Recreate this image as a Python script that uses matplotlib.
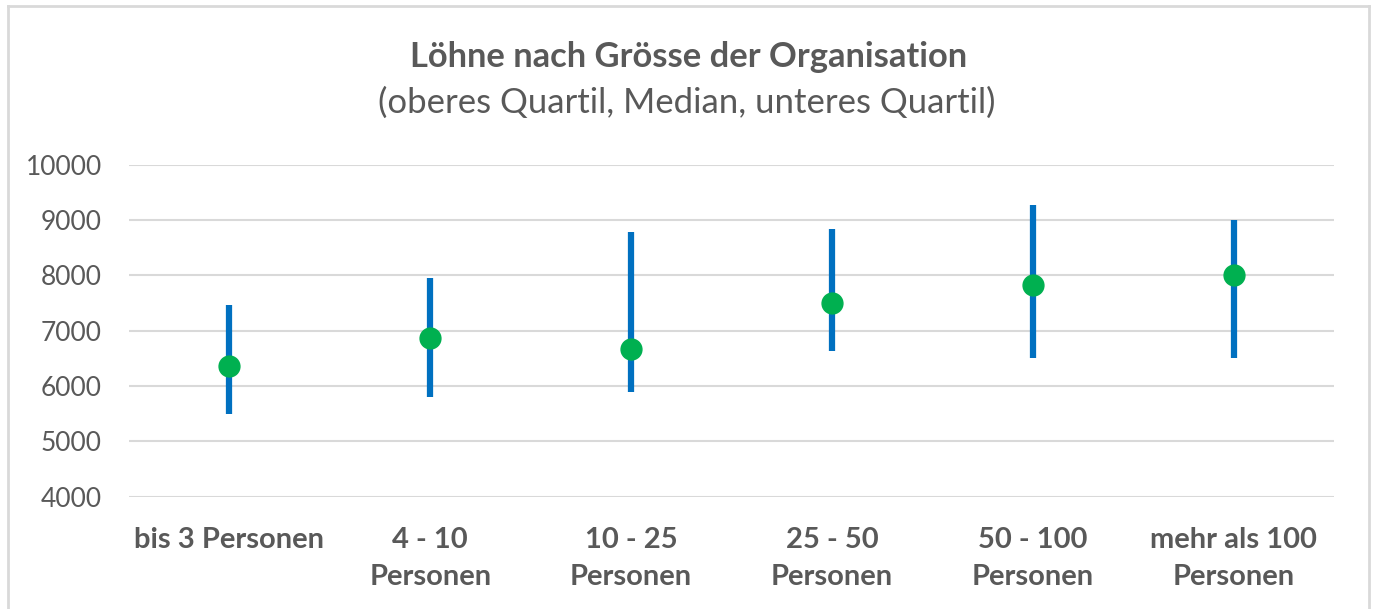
import matplotlib
matplotlib.use('Agg')
import matplotlib.pyplot as plt
from matplotlib.lines import Line2D

plt.rcParams['font.family'] = ['Lato', 'DejaVu Sans']

categories = ['bis 3 Personen', '4 - 10\nPersonen', '10 - 25\nPersonen',
              '25 - 50\nPersonen', '50 - 100\nPersonen', 'mehr als 100\nPersonen']
oberes_quartil = [7460, 7950, 8780, 8840, 9265, 9005]
median = [6370, 6860, 6675, 7495, 7820, 8005]
unteres_quartil = [5500, 5800, 5890, 6640, 6510, 6510]

GREY = '#595959'
BLUE = '#0070C0'
GREEN = '#00B050'

fig = plt.figure(figsize=(13.74, 6.09), dpi=100)
ax = fig.add_axes([129/1374, 1 - 496.7/609, (1334 - 129)/1374, (496.7 - 164.7)/609])

x = [i + 0.5 for i in range(len(categories))]
ax.vlines(x, unteres_quartil, oberes_quartil, colors=BLUE, linewidth=4.5,
          capstyle='butt', zorder=3)
ax.plot(x, median, 'o', color=GREEN, markersize=15, zorder=4)

ax.set_xlim(0, len(categories))
ax.set_ylim(4000, 10000)
ax.set_yticks(range(4000, 10001, 1000))
ax.set_xticks(x)
ax.set_xticklabels(categories, fontsize=21, fontweight='bold', color=GREY,
                   linespacing=1.5)
ax.tick_params(axis='x', length=0, pad=22)
ax.tick_params(axis='y', length=0, pad=19.5, labelsize=19, labelcolor=GREY)
ax.grid(axis='y', color='#D9D9D9', linewidth=1.5)
ax.set_axisbelow(True)
for s in ax.spines.values():
    s.set_visible(False)

fig.text(0.5015, 1 - 57/609, 'Löhne nach Grösse der Organisation', ha='center',
         va='center', fontsize=24.8, fontweight='bold', color=GREY)
fig.text(0.5, 1 - 103/609, '(oberes Quartil, Median, unteres Quartil)', ha='center',
         va='center', fontsize=25, color=GREY)

# chart frame (no bottom edge visible)
bx0, bx1, by = 8/1374, 1369/1374, 1 - 6/609
for xs, ys in [([bx0, bx0], [0, by]), ([bx0, bx1], [by, by]), ([bx1, bx1], [by, 0])]:
    fig.add_artist(Line2D(xs, ys, color='#D9D9D9', linewidth=2, transform=fig.transFigure))

fig.savefig('out.png', dpi=100)
